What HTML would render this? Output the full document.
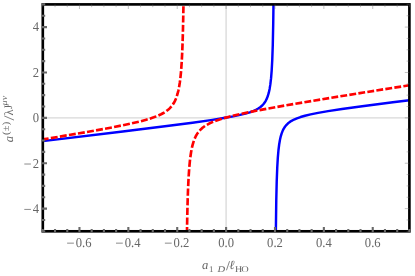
<!DOCTYPE html>
<html><head><meta charset="utf-8"><title>plot</title>
<style>
html,body{margin:0;padding:0;background:#fff;}
body{width:415px;height:276px;overflow:hidden;font-family:"Liberation Serif",serif;}
svg{display:block;will-change:transform}
text{font-family:"Liberation Serif",serif;fill:#666;text-rendering:geometricPrecision;}
</style></head><body>
<svg width="415" height="276" viewBox="0 0 415 276">
<rect width="415" height="276" fill="#fff"/>
<g stroke="#d8d8d8" stroke-width="1.3" fill="none">
<path d="M226.10,4.4 V231.3"/><path d="M42.8,117.85 H409.4"/>
</g>
<path d="M42.80,141.10 L120.77,131.77 L164.94,126.30 L192.52,122.69 L210.84,120.10 L223.78,118.06 L233.15,116.38 L240.12,114.92 L245.50,113.58 L249.76,112.30 L253.15,111.05 L255.92,109.81 L258.24,108.53 L260.19,107.20 L261.87,105.79 L263.36,104.24 L264.67,102.53 L265.86,100.59 L266.93,98.36 L267.91,95.75 L268.80,92.65 L269.62,88.89 L270.37,84.18 L271.07,78.16 L271.69,70.36 L272.26,59.87 L272.77,45.19 L273.22,23.80 L273.48,4.47 M275.86,231.01 L276.26,201.02 L276.72,181.23 L277.25,167.51 L277.82,157.63 L278.46,150.24 L279.17,144.49 L279.93,139.98 L280.76,136.35 L281.67,133.36 L282.66,130.82 L283.75,128.65 L284.97,126.76 L286.31,125.08 L287.82,123.56 L289.58,122.15 L291.62,120.82 L294.04,119.54 L296.93,118.30 L300.53,117.04 L304.96,115.76 L310.64,114.40 L318.09,112.89 L328.09,111.15 L342.03,109.01 L362.21,106.21 L392.86,102.26 L409.40,100.20" fill="none" stroke="#0000ff" stroke-width="2.45" stroke-linejoin="round"/>
<path d="M42.80,139.40 L48.61,138.44 M50.83,138.08 L57.66,136.95 M59.88,136.58 L66.71,135.43 M68.93,135.06 L75.75,133.90 M77.97,133.52 L84.79,132.34 M87.01,131.96 L93.83,130.76 M96.04,130.36 L102.85,129.12 M105.07,128.72 L111.87,127.44 M114.08,127.01 L120.87,125.67 M123.08,125.22 L129.85,123.78 M132.05,123.29 L138.79,121.70 M140.97,121.16 L146.31,119.71 L147.65,119.32 M149.80,118.66 L153.72,117.35 L156.34,116.37 M158.42,115.51 L161.08,114.28 L163.41,113.03 L164.57,112.33 M166.44,111.07 L168.13,109.75 L169.65,108.37 L171.00,106.94 L171.51,106.33 M172.86,104.52 L173.95,102.77 L174.96,100.87 L175.90,98.75 L176.06,98.34 M176.83,96.20 L177.65,93.48 L178.42,90.36 L178.61,89.45 M179.05,87.23 L179.74,83.00 L180.10,80.32 M180.38,78.06 L180.98,72.01 L181.06,71.11 M181.24,68.84 L181.72,61.87 M181.85,59.60 L182.20,52.62 M182.30,50.35 L182.56,43.37 M182.64,41.10 L182.85,34.11 M182.91,31.84 L183.08,24.85 M183.13,22.58 L183.27,15.59 M183.31,13.32 L183.43,6.33 M186.99,231.28 L187.06,227.06 M187.10,224.68 L187.24,217.42 M187.29,215.03 L187.46,207.77 M187.52,205.39 L187.73,198.13 M187.81,195.75 L188.07,188.49 M188.17,186.11 L188.53,178.86 M188.66,176.48 L189.15,169.24 M189.34,166.86 L189.93,160.68 L190.05,159.64 M190.33,157.27 L190.99,152.71 L191.45,150.11 M191.92,147.78 L192.69,144.58 L193.50,141.83 L193.84,140.81 M194.69,138.60 L195.66,136.49 L196.69,134.60 L197.79,132.90 L198.17,132.37 M199.64,130.57 L201.02,129.15 L202.53,127.80 L204.25,126.50 L204.95,126.01 M206.89,124.80 L209.21,123.55 L211.81,122.34 L213.11,121.78 M215.22,120.95 L218.83,119.68 L221.75,118.75 M223.92,118.11 L229.19,116.68 L230.56,116.33 M232.75,115.79 L239.44,114.23 M241.64,113.75 L248.36,112.34 M250.57,111.89 L257.31,110.57 M259.52,110.14 L266.27,108.88 M268.48,108.47 L275.24,107.25 M277.45,106.86 L284.21,105.67 M286.43,105.28 L293.19,104.11 M295.42,103.74 L302.18,102.59 M304.40,102.21 L311.17,101.08 M313.39,100.71 L320.16,99.59 M322.38,99.22 L329.15,98.11 M331.37,97.75 L338.15,96.65 M340.37,96.29 L347.14,95.19 M349.36,94.83 L356.14,93.74 M358.36,93.38 L365.13,92.29 M367.36,91.94 L374.13,90.86 M376.36,90.50 L383.13,89.42 M385.36,89.07 L392.13,87.99 M394.36,87.64 L401.13,86.57 M403.36,86.21 L409.40,85.26" fill="none" stroke="#ff0000" stroke-width="2.65" stroke-linejoin="round"/>
<rect x="42.8" y="4.4" width="366.60" height="226.90" fill="none" stroke="#000" stroke-width="2.65"/>
<path d="M42.80,232.20 L42.80,228.90 M55.02,232.20 L55.02,228.90 M67.24,232.20 L67.24,228.90 M79.46,232.20 L79.46,227.10 M91.68,232.20 L91.68,228.90 M103.90,232.20 L103.90,228.90 M116.12,232.20 L116.12,228.90 M128.34,232.20 L128.34,227.10 M140.56,232.20 L140.56,228.90 M152.78,232.20 L152.78,228.90 M165.00,232.20 L165.00,228.90 M177.22,232.20 L177.22,227.10 M189.44,232.20 L189.44,228.90 M201.66,232.20 L201.66,228.90 M213.88,232.20 L213.88,228.90 M226.10,232.20 L226.10,227.10 M238.32,232.20 L238.32,228.90 M250.54,232.20 L250.54,228.90 M262.76,232.20 L262.76,228.90 M274.98,232.20 L274.98,227.10 M287.20,232.20 L287.20,228.90 M299.42,232.20 L299.42,228.90 M311.64,232.20 L311.64,228.90 M323.86,232.20 L323.86,227.10 M336.08,232.20 L336.08,228.90 M348.30,232.20 L348.30,228.90 M360.52,232.20 L360.52,228.90 M372.74,232.20 L372.74,227.10 M384.96,232.20 L384.96,228.90 M397.18,232.20 L397.18,228.90 M409.40,232.20 L409.40,228.90 M41.90,231.30 L45.20,231.30 M41.90,219.96 L45.20,219.96 M41.90,208.61 L47.00,208.61 M41.90,197.27 L45.20,197.27 M41.90,185.92 L45.20,185.92 M41.90,174.58 L45.20,174.58 M41.90,163.23 L47.00,163.23 M41.90,151.88 L45.20,151.88 M41.90,140.54 L45.20,140.54 M41.90,129.19 L45.20,129.19 M41.90,117.85 L47.00,117.85 M41.90,106.51 L45.20,106.51 M41.90,95.16 L45.20,95.16 M41.90,83.81 L45.20,83.81 M41.90,72.47 L47.00,72.47 M41.90,61.12 L45.20,61.12 M41.90,49.78 L45.20,49.78 M41.90,38.44 L45.20,38.44 M41.90,27.09 L47.00,27.09 M41.90,15.75 L45.20,15.75 M41.90,4.40 L45.20,4.40" fill="none" stroke="#686868" stroke-width="2.1"/>
<path d="M42.80,4.40 L42.80,7.20 M55.02,4.40 L55.02,7.20 M67.24,4.40 L67.24,7.20 M79.46,4.40 L79.46,9.00 M91.68,4.40 L91.68,7.20 M103.90,4.40 L103.90,7.20 M116.12,4.40 L116.12,7.20 M128.34,4.40 L128.34,9.00 M140.56,4.40 L140.56,7.20 M152.78,4.40 L152.78,7.20 M165.00,4.40 L165.00,7.20 M177.22,4.40 L177.22,9.00 M189.44,4.40 L189.44,7.20 M201.66,4.40 L201.66,7.20 M213.88,4.40 L213.88,7.20 M226.10,4.40 L226.10,9.00 M238.32,4.40 L238.32,7.20 M250.54,4.40 L250.54,7.20 M262.76,4.40 L262.76,7.20 M274.98,4.40 L274.98,9.00 M287.20,4.40 L287.20,7.20 M299.42,4.40 L299.42,7.20 M311.64,4.40 L311.64,7.20 M323.86,4.40 L323.86,9.00 M336.08,4.40 L336.08,7.20 M348.30,4.40 L348.30,7.20 M360.52,4.40 L360.52,7.20 M372.74,4.40 L372.74,9.00 M384.96,4.40 L384.96,7.20 M397.18,4.40 L397.18,7.20 M409.40,4.40 L409.40,7.20 M409.40,231.30 L406.60,231.30 M409.40,219.96 L406.60,219.96 M409.40,208.61 L404.80,208.61 M409.40,197.27 L406.60,197.27 M409.40,185.92 L406.60,185.92 M409.40,174.58 L406.60,174.58 M409.40,163.23 L404.80,163.23 M409.40,151.88 L406.60,151.88 M409.40,140.54 L406.60,140.54 M409.40,129.19 L406.60,129.19 M409.40,117.85 L404.80,117.85 M409.40,106.51 L406.60,106.51 M409.40,95.16 L406.60,95.16 M409.40,83.81 L406.60,83.81 M409.40,72.47 L404.80,72.47 M409.40,61.12 L406.60,61.12 M409.40,49.78 L406.60,49.78 M409.40,38.44 L406.60,38.44 M409.40,27.09 L404.80,27.09 M409.40,15.75 L406.60,15.75 M409.40,4.40 L406.60,4.40" fill="none" stroke="#666" stroke-width="0.4"/>
<g font-size="12.6"><text transform="translate(75.82,246.65) scale(1,1.070)" text-anchor="start">0.6</text><text transform="translate(124.70,246.65) scale(1,1.070)" text-anchor="start">0.4</text><text transform="translate(173.58,246.65) scale(1,1.070)" text-anchor="start">0.2</text><text transform="translate(218.22,246.65) scale(1,1.070)" text-anchor="start">0.0</text><text transform="translate(267.10,246.65) scale(1,1.070)" text-anchor="start">0.2</text><text transform="translate(315.98,246.65) scale(1,1.070)" text-anchor="start">0.4</text><text transform="translate(364.87,246.65) scale(1,1.070)" text-anchor="start">0.6</text><text transform="translate(39.00,31.44) scale(1,1.070)" text-anchor="end">4</text><text transform="translate(39.00,76.82) scale(1,1.070)" text-anchor="end">2</text><text transform="translate(39.00,122.20) scale(1,1.070)" text-anchor="end">0</text><text transform="translate(39.00,167.58) scale(1,1.070)" text-anchor="end">2</text><text transform="translate(39.00,212.96) scale(1,1.070)" text-anchor="end">4</text></g>
<path d="M67.12,243.15 h6.8 M116.00,243.15 h6.8 M164.88,243.15 h6.8 M24.30,164.03 h6.6 M24.30,209.41 h6.6" fill="none" stroke="#666" stroke-width="0.75"/>
<g font-size="12.6">
<text transform="translate(202.00,268.70) scale(1.000,1.000)" font-size="12.60" font-style="italic">a</text><text transform="translate(209.00,271.90) scale(1.000,1.000)" font-size="8.80">1</text><text transform="translate(217.40,271.90) scale(1.200,1.000)" font-size="8.80" font-style="italic">D</text><text transform="translate(229.20,268.70) scale(1.000,1.000)" font-size="12.60" font-style="italic">ℓ</text><text transform="translate(235.00,271.90) scale(1.130,1.000)" font-size="8.80">H</text><text transform="translate(241.30,271.90) scale(1.180,1.000)" font-size="8.80">O</text><path d="M226.45,270.3 L229.55,261.2" stroke="#666" stroke-width="0.8" fill="none"/>
<text transform="translate(13.20,142.20) rotate(-90) scale(1.000,1.000)" font-size="12.60" font-style="italic">a</text><text transform="translate(8.60,135.10) rotate(-90) scale(1.100,1.000)" font-size="9.60" letter-spacing="0.25">(±)</text><text transform="translate(13.20,115.60) rotate(-90) scale(1.000,1.000)" font-size="12.60">λ</text><text transform="translate(12.40,108.90) rotate(-90) scale(0.900,1.000)" font-size="11.50">J</text><text transform="translate(6.80,105.40) rotate(-90) scale(1.150,1.000)" font-size="8.80" font-style="italic">μν</text><path d="M14.0,120.1 L4.2,115.9" stroke="#666" stroke-width="0.8" fill="none"/>
</g>
</svg>
</body></html>
